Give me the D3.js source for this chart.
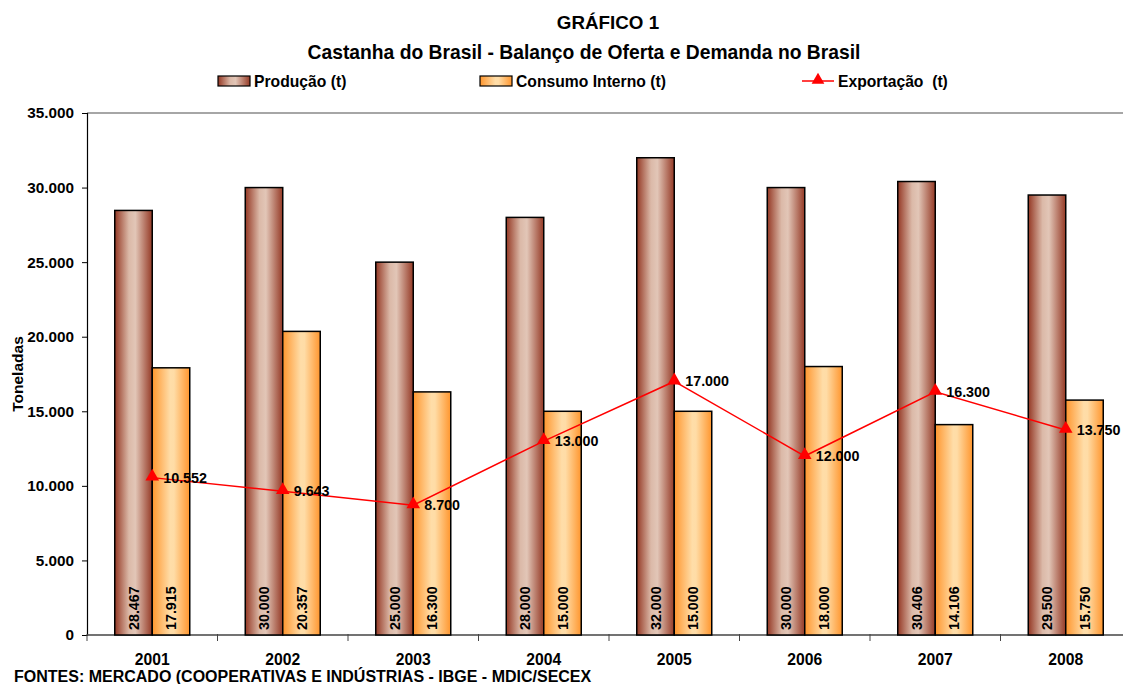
<!DOCTYPE html>
<html>
<head>
<meta charset="utf-8">
<script src="https://cdn.jsdelivr.net/npm/d3@7"></script>
<style>
  body { margin: 0; background: #fff; }
  svg { display: block; font-family: "Liberation Sans", Arial, sans-serif; font-weight: bold; }
</style>
</head>
<body>
<svg id="chart" width="1123" height="684"></svg>
<script>
var years = ['2001', '2002', '2003', '2004', '2005', '2006', '2007', '2008']
var producao = [28467, 30000, 25000, 28000, 32000, 30000, 30406, 29500]
var consumo = [17915, 20357, 16300, 15000, 15000, 18000, 14106, 15750]
var exportacao = [10552, 9643, 8700, 13000, 17000, 12000, 16300, 13750]
var yTicks = [0, 5000, 10000, 15000, 20000, 25000, 30000, 35000]

var svg = d3.select('#chart')
var plotLeft = 87, plotTop = 113, plotBottom = 635, plotRight = 1131

var fmt = function(v) { return d3.format(',')(v).replace(/,/g, '.') }

var x = d3.scaleBand().domain(years).range([plotLeft, plotRight])
var y = d3.scaleLinear().domain([0, 35000]).range([plotBottom, plotTop])
var barW = 37.5

// gradients
var defs = svg.append('defs')
function grad(id, stops) {
  var g = defs.append('linearGradient').attr('id', id)
    .attr('x1', '0%').attr('x2', '100%').attr('y1', '0%').attr('y2', '0%')
  stops.forEach(function(s) {
    g.append('stop').attr('offset', s[0]).attr('stop-color', s[1])
  })
}
grad('gProd', [['0%', '#943824'], ['38%', '#dbb9a8'], ['55%', '#e2c6b7'], ['100%', '#953a26']])
grad('gCons', [['0%', '#ff962e'], ['48%', '#ffdda8'], ['58%', '#ffdca6'], ['100%', '#ff962e']])

// titles
svg.append('text').attr('x', 608).attr('y', 29).attr('text-anchor', 'middle')
  .style('font-size', '18.8px').text('GRÁFICO 1')
svg.append('text').attr('x', 584).attr('y', 59).attr('text-anchor', 'middle')
  .style('font-size', '19.3px').text('Castanha do Brasil - Balanço de Oferta e Demanda no Brasil')

// legend
var lg = svg.append('g').style('font-size', '15.7px')
lg.append('rect').attr('x', 218).attr('y', 76).attr('width', 32).attr('height', 10)
  .attr('fill', 'url(#gProd)').attr('stroke', '#000').attr('stroke-width', 1.2)
lg.append('text').attr('x', 254).attr('y', 86.5).text('Produção (t)')
lg.append('rect').attr('x', 480).attr('y', 76).attr('width', 32).attr('height', 10)
  .attr('fill', 'url(#gCons)').attr('stroke', '#000').attr('stroke-width', 1.2)
lg.append('text').attr('x', 516).attr('y', 86.5).text('Consumo Interno (t)')
lg.append('line').attr('x1', 802).attr('x2', 834).attr('y1', 81).attr('y2', 81)
  .attr('stroke', 'red').attr('stroke-width', 1.5)
lg.append('path').attr('d', d3.symbol(d3.symbolTriangle, 70)())
  .attr('transform', 'translate(818,80)').attr('fill', 'red')
lg.append('text').attr('x', 838).attr('y', 86.5).style('white-space', 'pre').text('Exportação  (t)')

// top border
svg.append('line').attr('x1', plotLeft).attr('x2', plotRight).attr('y1', plotTop).attr('y2', plotTop)
  .attr('stroke', '#888').attr('stroke-width', 1.5)

// y axis
var yAxis = d3.axisLeft(y).tickValues(yTicks).tickSize(5).tickFormat(fmt)
var gy = svg.append('g').attr('transform', 'translate(' + plotLeft + ',0)').call(yAxis)
gy.select('.domain').attr('stroke', '#000').attr('stroke-width', 1.2)
gy.selectAll('.tick line').attr('stroke', '#000')
gy.selectAll('.tick text').attr('x', -13).style('font-size', '15.3px')
  .style('font-family', '"Liberation Sans", Arial, sans-serif').style('font-weight', 'bold').attr('fill', '#000')

svg.append('text').attr('transform', 'translate(23,374) rotate(-90)')
  .attr('text-anchor', 'middle').style('font-size', '15.5px').text('Toneladas')

// x axis with boundary ticks
var boundaries = years.map(function(d) { return x(d) }).concat([plotRight])
var gx = svg.append('g')
gx.append('line').attr('x1', plotLeft).attr('x2', plotRight).attr('y1', plotBottom).attr('y2', plotBottom)
  .attr('stroke', '#444').attr('stroke-width', 1.5)
gx.selectAll('line.bt').data(boundaries).enter().append('line').attr('class', 'bt')
  .attr('x1', function(d) { return d }).attr('x2', function(d) { return d })
  .attr('y1', plotBottom - 1).attr('y2', plotBottom + 6).attr('stroke', '#444')
gx.selectAll('text').data(years).enter().append('text')
  .attr('x', function(d) { return x(d) + x.bandwidth() / 2 }).attr('y', 665)
  .attr('text-anchor', 'middle').style('font-size', '15.7px').text(function(d) { return d })

// bars
var gb = svg.append('g')
years.forEach(function(yr, i) {
  var cx = x(yr) + x.bandwidth() / 2
  gb.append('rect').attr('x', cx - barW).attr('width', barW)
    .attr('y', y(producao[i])).attr('height', plotBottom - y(producao[i]))
    .attr('fill', 'url(#gProd)').attr('stroke', '#000').attr('stroke-width', 1.5)
  gb.append('rect').attr('x', cx).attr('width', barW)
    .attr('y', y(consumo[i])).attr('height', plotBottom - y(consumo[i]))
    .attr('fill', 'url(#gCons)').attr('stroke', '#000').attr('stroke-width', 1.5)
  gb.append('text').attr('transform', 'translate(' + (cx - barW / 2 + 5) + ',630) rotate(-90)')
    .style('font-size', '14.3px').text(fmt(producao[i]))
  gb.append('text').attr('transform', 'translate(' + (cx + barW / 2 + 5) + ',630) rotate(-90)')
    .style('font-size', '14.3px').text(fmt(consumo[i]))
})

// export line
var line = d3.line()
  .x(function(d, i) { return x(years[i]) + x.bandwidth() / 2 })
  .y(function(d) { return y(d) })
svg.append('path').datum(exportacao).attr('d', line)
  .attr('fill', 'none').attr('stroke', 'red').attr('stroke-width', 1.5)
var gm = svg.append('g')
exportacao.forEach(function(v, i) {
  var cx = x(years[i]) + x.bandwidth() / 2
  gm.append('path').attr('d', d3.symbol(d3.symbolTriangle, 80)())
    .attr('transform', 'translate(' + cx + ',' + (y(v) - 1) + ')').attr('fill', 'red')
  gm.append('text').attr('x', cx + 11).attr('y', y(v)).attr('dy', '0.35em')
    .style('font-size', '14.3px').text(fmt(v))
})

// source
svg.append('text').attr('x', 14).attr('y', 682).style('font-size', '16px')
  .text('FONTES: MERCADO (COOPERATIVAS E INDÚSTRIAS - IBGE - MDIC/SECEX')
</script>
</body>
</html>
